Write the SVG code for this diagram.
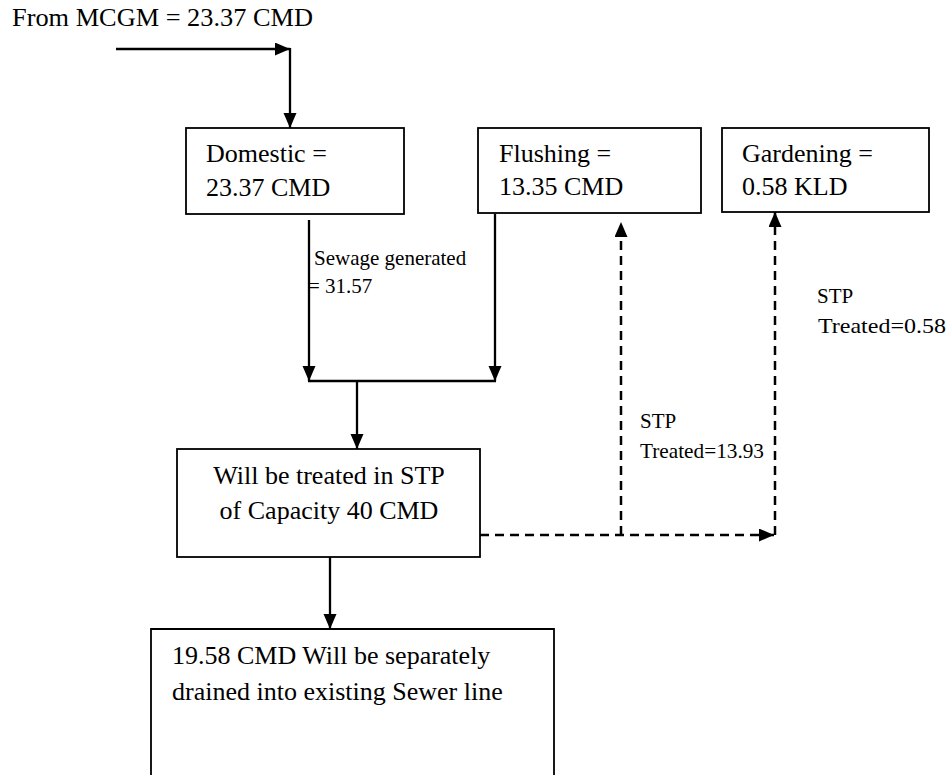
<svg xmlns="http://www.w3.org/2000/svg" width="947" height="775" viewBox="0 0 947 775" font-family="'Liberation Serif', 'Times New Roman', 'DejaVu Serif', serif">
<style>
text{font-family:'Liberation Serif','Times New Roman','DejaVu Serif',serif;fill:#000}
.big{font-size:26px}
.lbl{font-size:21px}
.box{fill:#fff;stroke:#000;stroke-width:1.8}
.ln{fill:none;stroke:#000;stroke-width:2.3}
.dash{fill:none;stroke:#000;stroke-width:2.5;stroke-dasharray:9,6}
</style>
<defs>
<marker id="ah" markerUnits="userSpaceOnUse" markerWidth="16" markerHeight="14" refX="15" refY="6.5" orient="auto">
<path d="M0,0 L15,6.5 L0,13 z" fill="#000"/>
</marker>
</defs>
<rect width="947" height="775" fill="#fff"/>
<g id="source">
<text class="big" x="12" y="26" textLength="301" lengthAdjust="spacingAndGlyphs">From MCGM = 23.37 CMD</text>
</g>
<g id="domestic">
<rect class="box" x="186" y="128" width="218" height="86"/>
<text class="big" x="206" y="162">Domestic =</text>
<text class="big" x="206" y="196">23.37 CMD</text>
</g>
<g id="flushing">
<rect class="box" x="478" y="128" width="223" height="85"/>
<text class="big" x="499" y="162">Flushing =</text>
<text class="big" x="499" y="195">13.35 CMD</text>
</g>
<g id="gardening">
<rect class="box" x="722" y="128" width="207" height="84"/>
<text class="big" x="742" y="162">Gardening =</text>
<text class="big" x="742" y="195">0.58 KLD</text>
</g>
<g id="stp">
<rect class="box" x="177" y="449" width="303" height="108"/>
<text class="big" x="329" y="484" text-anchor="middle">Will be treated in STP</text>
<text class="big" x="329" y="519" text-anchor="middle">of Capacity 40 CMD</text>
</g>
<g id="sewer">
<path class="box" d="M151,790 L151,629 L554,629 L554,790"/>
<text class="big" x="172" y="664">19.58 CMD Will be separately</text>
<text class="big" x="172" y="700">drained into existing Sewer line</text>
</g>
<g id="connectors">
<line class="ln" x1="116" y1="49" x2="290" y2="49" marker-end="url(#ah)"/>
<line class="ln" x1="290" y1="48" x2="290" y2="128" marker-end="url(#ah)"/>
<line class="ln" x1="309" y1="220" x2="309" y2="381" marker-end="url(#ah)"/>
<line class="ln" x1="495" y1="214" x2="495" y2="381" marker-end="url(#ah)"/>
<line class="ln" x1="308" y1="381" x2="496" y2="381"/>
<line class="ln" x1="357" y1="381" x2="357" y2="449" marker-end="url(#ah)"/>
<line class="ln" x1="330" y1="557" x2="330" y2="629" marker-end="url(#ah)"/>
<line class="dash" x1="480" y1="535" x2="774" y2="535" marker-end="url(#ah)"/>
<line class="dash" x1="621" y1="535" x2="621" y2="222" marker-end="url(#ah)"/>
<line class="dash" x1="775" y1="535" x2="775" y2="212" marker-end="url(#ah)"/>
</g>
<g id="labels">
<text class="lbl" x="314" y="265">Sewage generated</text>
<text class="lbl" x="308" y="293">= 31.57</text>
<text class="lbl" x="640" y="428">STP</text>
<text class="lbl" x="640" y="458" textLength="124" lengthAdjust="spacingAndGlyphs">Treated=13.93</text>
<text class="lbl" x="817" y="303">STP</text>
<text class="lbl" x="818" y="333" textLength="128" lengthAdjust="spacingAndGlyphs">Treated=0.58</text>
</g>
</svg>
